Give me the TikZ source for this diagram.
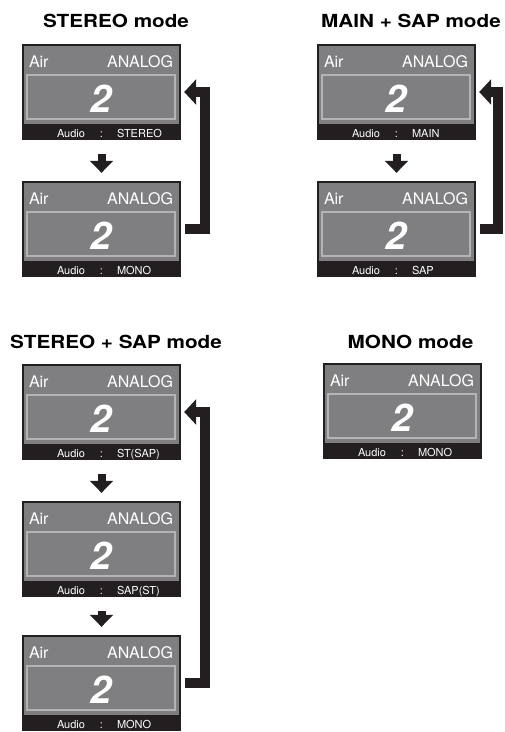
\documentclass[tikz,border=0pt]{standalone}
\usepackage{fontspec}
\setmainfont{TeX Gyre Heros}
\usetikzlibrary{arrows.meta}

\definecolor{framecol}{HTML}{231F20}
\definecolor{screengray}{HTML}{7F7F82}
\definecolor{boxline}{HTML}{B4B4B6}

% one TV screen: name, centre, audio mode
\newcommand{\tvscreen}[3]{%
    \node[screen] (#1) at (#2) {};
    \fill[screengray] ([shift={(2.5pt,-2.5pt)}]#1.north west) rectangle ([shift={(-2.5pt,16pt)}]#1.south east);
    \draw[boxline, line width=2pt] ([shift={(5pt,-31pt)}]#1.north west) rectangle ([shift={(-6pt,21pt)}]#1.south east);
    \node[toptext, anchor=base west] (#1-air) at ([shift={(7pt,-24pt)}]#1.north west) {Air};
    \node[toptext, anchor=base east] (#1-src) at ([shift={(-8pt,-24pt)}]#1.north east) {ANALOG};
    \node[chtext] (#1-ch) at ([yshift=-20pt]#1.center) {2};
    \node[audiotext, anchor=base west] (#1-lbl) at ([shift={(35pt,3pt)}]#1.south west) {Audio};
    \node[audiotext] (#1-colon) at ([yshift=3pt]#1.south) {:};
    \node[audiotext, anchor=base west] (#1-mode) at ([shift={(95pt,3pt)}]#1.south west) {#3};
}

\begin{document}
\begin{tikzpicture}[x=1pt, y=-1pt,
    screen/.style={rectangle, fill=framecol, minimum width=159pt, minimum height=96pt, inner sep=0pt},
    toptext/.style={text=white, inner sep=0pt, font=\fontsize{16}{16}\selectfont},
    chtext/.style={text=white, inner sep=0pt, anchor=base, font=\bfseries\itshape\fontsize{38}{38}\selectfont},
    audiotext/.style={text=white, inner sep=0pt, anchor=base, font=\fontsize{11}{11}\selectfont},
    title/.style={anchor=base, inner sep=0pt, font=\bfseries\fontsize{18}{18}\selectfont\addfontfeature{FakeStretch=1.15}},
    downarrow/.style={framecol, line width=8pt, -{Triangle[length=12pt,width=23pt]}, shorten <=14pt, shorten >=8pt},
    looparrow/.style={framecol, line width=10pt, line join=miter, -{Triangle[length=12pt,width=25pt]}}]
    \useasboundingbox (0,0) rectangle (505,732);

    % STEREO mode
    \node[title] (tst) at (116,27) {STEREO mode};
    \tvscreen{st1}{101.5,92}{STEREO}
    \tvscreen{st2}{101.5,229}{MONO}
    \draw[downarrow] (st1) -- (st2);
    \draw[looparrow] ([xshift=4pt]st2.east) -| ([xshift=24pt]st1.east) -- ([xshift=3pt]st1.east);

    % MAIN + SAP mode
    \node[title] (tms) at (411,27) {MAIN + SAP mode};
    \tvscreen{ms1}{396.5,92}{MAIN}
    \tvscreen{ms2}{396.5,229}{SAP}
    \draw[downarrow] (ms1) -- (ms2);
    \draw[looparrow] ([xshift=4pt]ms2.east) -| ([xshift=22pt]ms1.east) -- ([xshift=3pt]ms1.east);

    % STEREO + SAP mode
    \node[title] (tss) at (116,348) {STEREO + SAP mode};
    \tvscreen{ss1}{101.5,412}{ST(SAP)}
    \tvscreen{ss2}{101.5,549}{SAP(ST)}
    \tvscreen{ss3}{101.5,683}{MONO}
    \draw[downarrow] (ss1) -- (ss2);
    \draw[downarrow] (ss2) -- (ss3);
    \draw[looparrow] ([xshift=4pt]ss3.east) -| ([xshift=24pt]ss1.east) -- ([xshift=3pt]ss1.east);

    % MONO mode
    \node[title] (tmo) at (410.5,348) {MONO mode};
    \tvscreen{mo1}{402.5,411}{MONO}
\end{tikzpicture}
\end{document}
